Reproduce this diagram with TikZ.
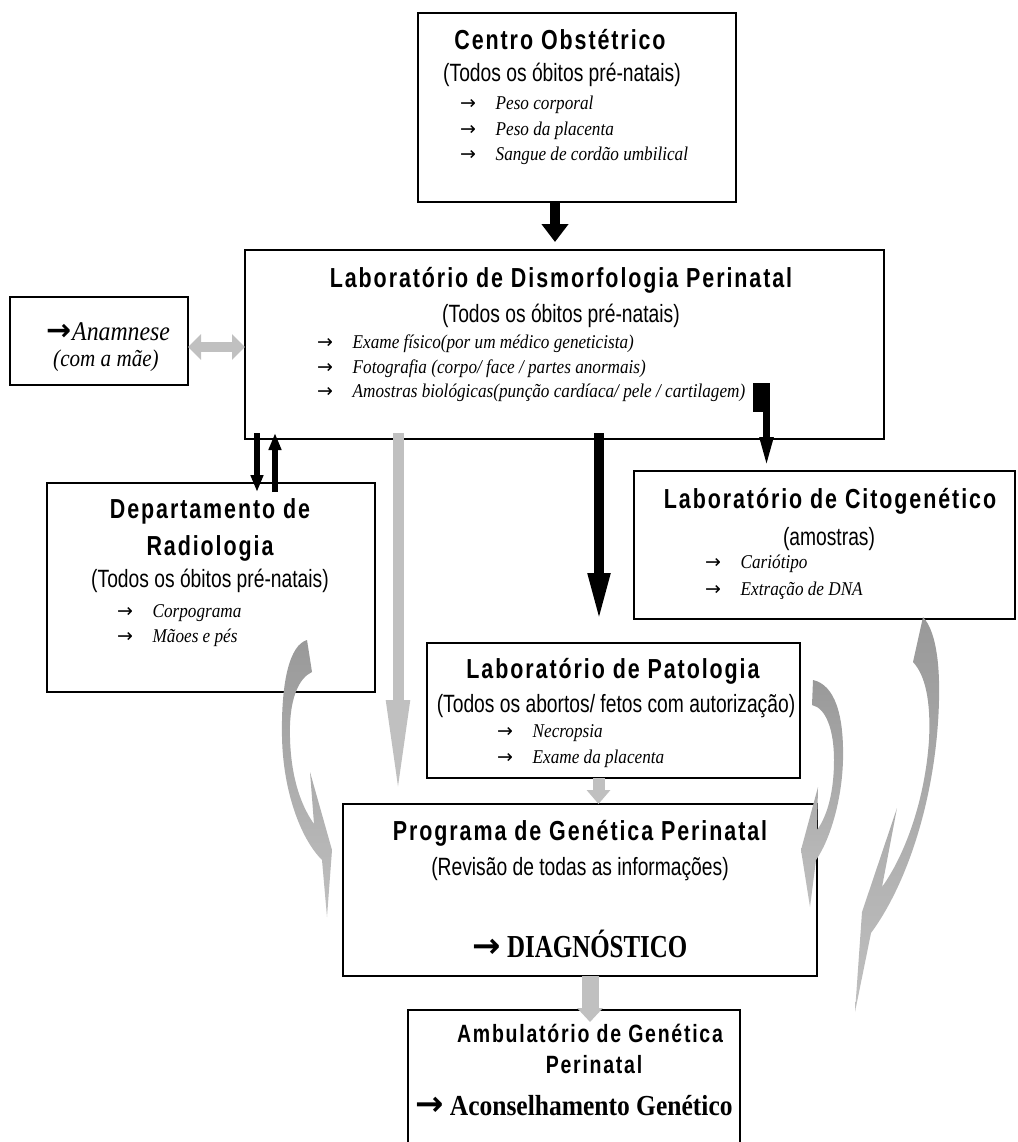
\documentclass[tikz,border=0pt]{standalone}
\usepackage{fontspec}
\setmainfont{Liberation Serif}
\newfontfamily\headfont[FakeStretch=0.78,LetterSpace=7]{Liberation Sans}
\newfontfamily\subfont[FakeStretch=0.77]{Liberation Sans}
\newfontfamily\itemfont[FakeStretch=0.88]{Liberation Serif}
\newfontfamily\bigfont[FakeStretch=0.78]{Liberation Serif}
\newfontfamily\arrowfont{DejaVu Sans}
\usetikzlibrary{arrows.meta, positioning, calc}
\definecolor{arrowgray}{HTML}{C0C0C0}
\definecolor{ribbondark}{HTML}{999999}

\newcommand{\itemarrow}{\makebox[35.5pt][l]{\upshape\arrowfont\fontsize{19}{20}\selectfont →}}
\newcommand{\boldarrow}[1]{{\arrowfont\bfseries\fontsize{#1}{#1}\selectfont →}}

\begin{document}
\begin{tikzpicture}[x=1pt, y=-1pt,
    box/.style={draw, line width=1.6pt, fill=white, inner sep=0pt, outer sep=0pt},
    boxtitle/.style={anchor=base, inner sep=0pt, font=\headfont\bfseries\fontsize{27.5}{32}\selectfont},
    boxsub/.style={anchor=base, inner sep=0pt, font=\subfont\fontsize{25}{30}\selectfont},
    boxitem/.style={anchor=base west, inner sep=0pt, font=\itemfont\itshape\fontsize{19.5}{23}\selectfont, execute at begin node=\itemarrow},
    blackarrow/.style={draw=black, line width=10pt, -{Triangle[width=26pt,length=18pt]}},
    longblack/.style={draw=black, line width=10pt, -{Triangle[width=20pt,length=50pt]}},
    thinarrow/.style={draw=black, line width=6pt, -{Triangle[width=12pt,length=17pt]}},
    grayarrow/.style={draw=arrowgray, line width=12pt, -{Triangle[width=23pt,length=14pt]}},
    longgray/.style={draw=arrowgray, line width=11pt, -{Triangle[width=21pt,length=100pt]}},
    ribbon/.style={top color=ribbondark, middle color=arrowgray, bottom color=arrowgray}]
    \useasboundingbox (0,0) rectangle (1017,1142);

    % boxes
    \node[box, minimum width=318pt, minimum height=189pt] (centro) at (577,107.5) {};
    \node[box, minimum width=639pt, minimum height=189pt] (dismorf) at (564.5,344.5) {};
    \node[box, minimum width=178pt, minimum height=88pt] (anamnese) at (99,341) {};
    \node[box, minimum width=328pt, minimum height=209pt] (radio) at (211,587.5) {};
    \node[box, minimum width=381pt, minimum height=148pt] (cito) at (824.5,545) {};
    \node[box, minimum width=373pt, minimum height=135pt] (pato) at (613.5,710.5) {};
    \node[box, minimum width=474pt, minimum height=172pt] (prog) at (580,890) {};
    \node[box, minimum width=332pt, minimum height=140pt] (ambul) at (574,1080) {};

    % Centro Obstetrico
    \node[boxtitle] (centro-t) at (560,50) {Centro Obstétrico};
    \node[boxsub] (centro-s) at (562,82) {(Todos os óbitos pré-natais)};
    \node[boxitem] (centro-1) at (460,110) {Peso corporal};
    \node[boxitem] (centro-2) at (460,136) {Peso da placenta};
    \node[boxitem] (centro-3) at (460,161) {Sangue de cordão umbilical};

    % Dismorfologia
    \node[boxtitle] (dismorf-t) at (561,287) {Laboratório de Dismorfologia Perinatal};
    \node[boxsub] (dismorf-s) at (561,322) {(Todos os óbitos pré-natais)};
    \node[boxitem] (dismorf-1) at (317,348) {Exame físico(por um médico geneticista)};
    \node[boxitem] (dismorf-2) at (317,373) {Fotografia (corpo/ face / partes anormais)};
    \node[boxitem] (dismorf-3) at (317,397) {Amostras biológicas(punção cardíaca/ pele / cartilagem)};

    % Anamnese
    \node[anchor=base, inner sep=0pt] (anamnese-t) at (108,340) {\boldarrow{30}\hspace{1pt}{\itemfont\itshape\fontsize{27}{30}\selectfont Anamnese}};
    \node[anchor=base, inner sep=0pt, font=\itemfont\itshape\fontsize{24}{28}\selectfont] (anamnese-s) at (106,366) {(com a mãe)};

    % Radiologia
    \node[boxtitle] (radio-t1) at (210,518) {Departamento de};
    \node[boxtitle] (radio-t2) at (210,555) {Radiologia};
    \node[boxsub] (radio-s) at (210,587) {(Todos os óbitos pré-natais)};
    \node[boxitem] (radio-1) at (117,617) {Corpograma};
    \node[boxitem] (radio-2) at (117,642) {Mãoes e pés};

    % Citogenetico
    \node[boxtitle] (cito-t) at (830,508) {Laboratório de Citogenético};
    \node[boxsub] (cito-s) at (829,545) {(amostras)};
    \node[boxitem] (cito-1) at (705,568) {Cariótipo};
    \node[boxitem] (cito-2) at (705,595) {Extração de DNA};

    % Patologia
    \node[boxtitle] (pato-t) at (613,678) {Laboratório de Patologia};
    \node[boxsub] (pato-s) at (616,712) {(Todos os abortos/ fetos com autorização)};
    \node[boxitem] (pato-1) at (497,737) {Necropsia};
    \node[boxitem] (pato-2) at (497,763) {Exame da placenta};

    % Programa
    \node[boxtitle] (prog-t) at (580,840) {Programa de Genética Perinatal};
    \node[boxsub] (prog-s) at (580,875) {(Revisão de todas as informações)};
    \node[anchor=base, inner sep=0pt] (prog-d) at (580,957) {\boldarrow{34}\hspace{6pt}{\bigfont\bfseries\fontsize{32}{36}\selectfont DIAGNÓSTICO}};

    % Ambulatorio
    \node[boxtitle, font=\headfont\bfseries\fontsize{25}{29}\selectfont] (ambul-t1) at (590,1042) {Ambulatório de Genética};
    \node[boxtitle, font=\headfont\bfseries\fontsize{25}{29}\selectfont] (ambul-t2) at (594,1073) {Perinatal};
    \node[anchor=base, inner sep=0pt] (ambul-c) at (574,1115) {\boldarrow{34}\hspace{6pt}{\itemfont\bfseries\fontsize{29}{33}\selectfont Aconselhamento Genético}};

    % straight arrows
    \coordinate (co) at ($(centro.south)+(-22,0)$);
    \coordinate (an) at ($(anamnese.east)+(0,6)$);
    \coordinate (rd) at ($(dismorf.south west)+(12,-6)$);
    \coordinate (ru) at ($(radio.north west)+(228,9)$);
    \coordinate (gp) at ($(dismorf.south west)+(153,-6)$);
    \coordinate (bp) at ($(dismorf.south west)+(354,-6)$);
    \coordinate (st) at (766.5,412);
    \coordinate (pp) at ($(pato.south)+(-15,0)$);
    \coordinate (pa) at ($(prog.south)+(10,0)$);

    \draw[blackarrow, shorten >=8pt] (co) -- (co |- dismorf.north);
    \draw[draw=arrowgray, line width=10pt, {Triangle[width=25pt,length=13pt]}-{Triangle[width=25pt,length=13pt]}] (an) -- (an -| dismorf.west);
    \draw[thinarrow] (rd) -- ($(rd |- radio.north)+(0,9)$);
    \draw[thinarrow] (ru) -- (ru |- rd);
    \draw[longgray, shorten >=4pt] (gp) -- (gp |- prog.north);
    \draw[longblack, shorten >=20pt] (bp) -- (bp |- pato.north);
    \fill (753,383) rectangle (770,412);
    \draw[draw=black, line width=7pt, -{Triangle[width=12pt,length=33pt]}, shorten >=1pt] (st) -- (st |- cito.north);
    \draw[grayarrow] (pp) -- (pp |- prog.north);
    \draw[draw=arrowgray, line width=17pt, -{Triangle[width=25pt,length=14pt]}] (pa) -- ($(pa |- ambul.north)+(0,12)$);

    % curved arrows
    \path[ribbon] (307,640) .. controls (290,645) and (281,680) .. (282,737)
        .. controls (283,790) and (300,838) .. (322,860)
        -- (327,917) -- (332,850) -- (310,772) -- (314,824)
        .. controls (297,800) and (289,765) .. (290,725)
        .. controls (291,697) and (299,678) .. (312,672) -- cycle;
    \path[ribbon] (813,680) .. controls (835,685) and (844,715) .. (843,760)
        .. controls (842,800) and (830,840) .. (816,860)
        -- (810,907) -- (801,850) -- (818,787) -- (817,830)
        .. controls (828,815) and (834,790) .. (834,760)
        .. controls (834,730) and (826,708) .. (812,705) -- cycle;
    \path[ribbon] (923,617) .. controls (935,630) and (940,660) .. (939,700)
        .. controls (937,790) and (910,880) .. (871,933)
        -- (855,1012) -- (862,912) -- (897,808) -- (882,887)
        .. controls (905,855) and (925,800) .. (929,740)
        .. controls (931,700) and (925,675) .. (913,662) -- cycle;
\end{tikzpicture}
\end{document}
